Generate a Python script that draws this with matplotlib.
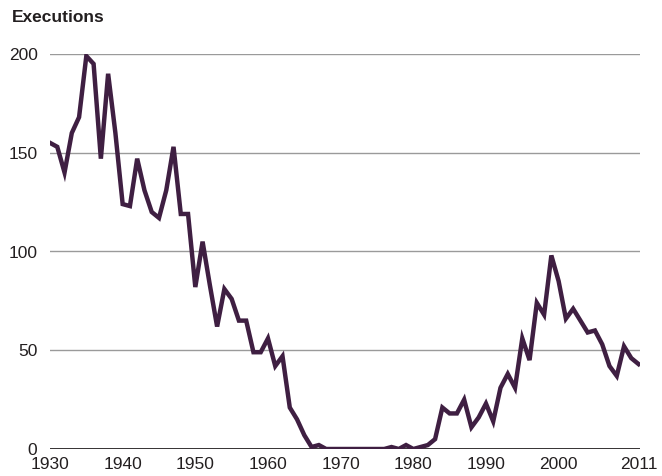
import matplotlib.pyplot as plt

years = list(range(1930, 2012))
executions = [
    155, 153, 140, 160, 168, 199, 195, 147, 190, 160,  # 1930s
    124, 123, 147, 131, 120, 117, 131, 153, 119, 119,  # 1940s
    82, 105, 83, 62, 81, 76, 65, 65, 49, 49,           # 1950s
    56, 42, 47, 21, 15, 7, 1, 2, 0, 0,                 # 1960s
    0, 0, 0, 0, 0, 0, 0, 1, 0, 2,                      # 1970s
    0, 1, 2, 5, 21, 18, 18, 25, 11, 16,                # 1980s
    23, 14, 31, 38, 31, 56, 45, 74, 68, 98,            # 1990s
    85, 66, 71, 65, 59, 60, 53, 42, 37, 52,            # 2000s
    46, 43,                                            # 2010-2011
]
xticks = [1930, 1940, 1950, 1960, 1970, 1980, 1990, 2000, 2011]
yticks = [0, 50, 100, 150, 200]

plt.rcParams["font.family"] = ["Liberation Sans", "DejaVu Sans"]

fig = plt.figure(figsize=(6.62, 4.76), dpi=100)
ax = fig.add_axes([50 / 662, 27 / 476, 590 / 662, 395 / 476])

for y in yticks[1:]:
    ax.axhline(y, color="#9a9a9a", lw=1.0, zorder=1)
ax.axhline(0, color="#231f20", lw=2.0, zorder=1)

ax.plot(years, executions, color="#3f1f42", lw=3.2, solid_joinstyle="miter", zorder=3)

ax.set_xlim(1930, 2011.2)
ax.set_ylim(0, 200)
ax.set_xticks(xticks)
ax.set_yticks(yticks)
ax.tick_params(length=0, labelsize=12.5, colors="#231f20")
ax.tick_params(axis="y", pad=9)
ax.tick_params(axis="x", pad=6)
for lbl in ax.get_yticklabels():
    lbl.set_verticalalignment("center_baseline")
for s in ax.spines.values():
    s.set_visible(False)

fig.text(12 / 662, 1 - 18 / 476, "Executions", fontsize=12.5, fontweight="bold",
         color="#231f20", va="center", ha="left")

fig.savefig("out.png", dpi=100)
